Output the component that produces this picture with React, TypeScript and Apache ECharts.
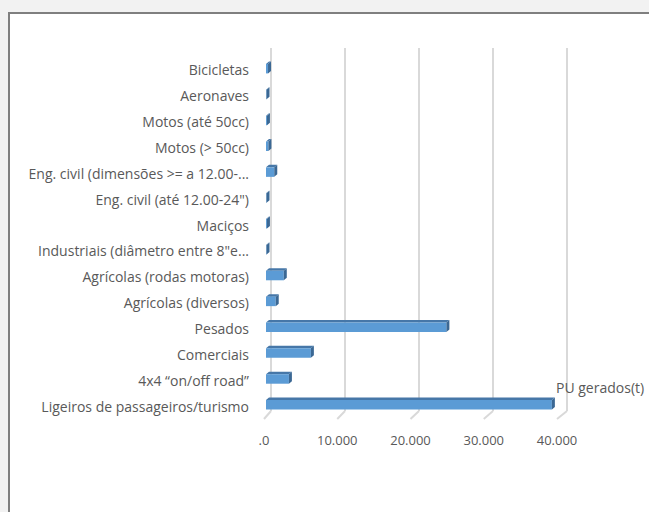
import React, { useEffect, useRef } from "react";
import * as echarts from "echarts";

const categories = [
  "Ligeiros de passageiros/turismo",
  "4x4 “on/off road”",
  "Comerciais",
  "Pesados",
  "Agrícolas (diversos)",
  "Agrícolas (rodas motoras)",
  "Industriais (diâmetro entre 8\"e...",
  "Maciços",
  "Eng. civil (até 12.00-24\")",
  "Eng. civil (dimensões >= a 12.00-...",
  "Motos (> 50cc)",
  "Motos (até 50cc)",
  "Aeronaves",
  "Bicicletas",
];
const values = [39300, 3400, 6400, 24900, 1600, 2700, 200, 400, 150, 1400, 600, 400, 100, 550];
const xTicks = [0, 10000, 20000, 30000, 40000];
const seriesName = "PU gerados(t)";

const fmt = (v: number) =>
  v === 0 ? ".0" : String(v).replace(/\B(?=(\d{3})+(?!\d))/g, ".");

export default function App() {
  const ref = useRef<HTMLDivElement>(null);
  useEffect(() => {
    if (!ref.current) return;
    const chart = echarts.init(ref.current, undefined, { renderer: "svg" });
    const option: any = {
      animation: false,
      backgroundColor: "#f2f2f2",
      textStyle: { fontFamily: "Open Sans" },
      graphic: [
        {
          type: "rect",
          z: -10,
          silent: true,
          shape: { x: 9, y: 13, width: 700, height: 600 },
          style: { fill: "#ffffff", stroke: "#7f7f7f", lineWidth: 2 },
        },
      ],
      legend: {
        data: [seriesName],
        icon: "none",
        itemWidth: 0,
        itemGap: 0,
        left: 546,
        top: 375,
        textStyle: { fontSize: 14, color: "#595959", fontFamily: "Open Sans" },
      },
      grid: [
        { left: 264, right: 92, top: 57, bottom: 93 },
        { left: 271, right: 82, top: 48, bottom: 101 },
      ],
      xAxis: [
        {
          type: "value",
          gridIndex: 0,
          min: 0,
          max: 40000,
          interval: 10000,
          axisLine: { show: false },
          axisTick: { show: false },
          splitLine: { show: false },
          axisLabel: { formatter: fmt, color: "#595959", fontSize: 13, margin: 14 },
        },
        {
          type: "value",
          gridIndex: 1,
          min: 0,
          max: 40000,
          interval: 10000,
          axisLine: { show: false },
          axisTick: { show: false },
          axisLabel: { show: false },
          splitLine: { show: true, lineStyle: { color: "#d9d9d9", width: 2 } },
        },
      ],
      yAxis: [
        {
          type: "category",
          gridIndex: 0,
          data: categories,
          axisLine: { show: false },
          axisTick: { show: false },
          axisLabel: { color: "#595959", fontSize: 14, margin: 15 },
        },
        {
          type: "value",
          gridIndex: 1,
          min: 0,
          max: 1,
          show: false,
          splitLine: { show: false },
        },
      ],
      series: [
        {
          type: "custom",
          name: "floor",
          xAxisIndex: 1,
          yAxisIndex: 1,
          silent: true,
          z: 1,
          data: xTicks.map((v) => [v, 0]),
          renderItem: (params: any, api: any) => {
            const v = api.value(0);
            const p = api.coord([v, 0]);
            return {
              type: "line",
              shape: { x1: p[0], y1: p[1], x2: p[0] - 7 - (3 * v) / 40000, y2: p[1] + 8 },
              style: { stroke: "#d9d9d9", lineWidth: 2 },
            };
          },
        },
        {
          type: "custom",
          name: seriesName,
          xAxisIndex: 0,
          yAxisIndex: 0,
          z: 3,
          itemStyle: { color: "#5b9bd5" },
          encode: { x: 1, y: 0 },
          data: values.map((v, i) => [i, v]),
          renderItem: (params: any, api: any) => {
            const idx = api.value(0);
            const v = api.value(1);
            const p0 = api.coord([0, idx]);
            const p1 = api.coord([v, idx]);
            const c = p0[1];
            const x0 = p0[0] + 2;
            const x1 = Math.max(p1[0], x0 + 0.5);
            const top = c - 6;
            const bot = c + 3.5;
            const dx = 3;
            const dy = 2.5;
            return {
              type: "group",
              children: [
                {
                  type: "polygon",
                  shape: { points: [[x0, top], [x0 + dx, top - dy], [x1 + dx, top - dy], [x1, top]] },
                  style: { fill: "#4677a8" },
                },
                {
                  type: "rect",
                  shape: { x: x0, y: top, width: x1 - x0, height: bot - top },
                  style: { fill: "#5b9bd5" },
                },
                {
                  type: "polygon",
                  shape: { points: [[x1, top], [x1 + dx, top - dy], [x1 + dx, bot - dy], [x1, bot]] },
                  style: { fill: "#3b6894" },
                },
              ],
            };
          },
        },
      ],
    };
    chart.setOption(option);
    return () => chart.dispose();
  }, []);
  return (
    <div
      ref={ref}
      style={{ position: "fixed", left: 0, top: 0, width: 649, height: 512 }}
    />
  );
}
